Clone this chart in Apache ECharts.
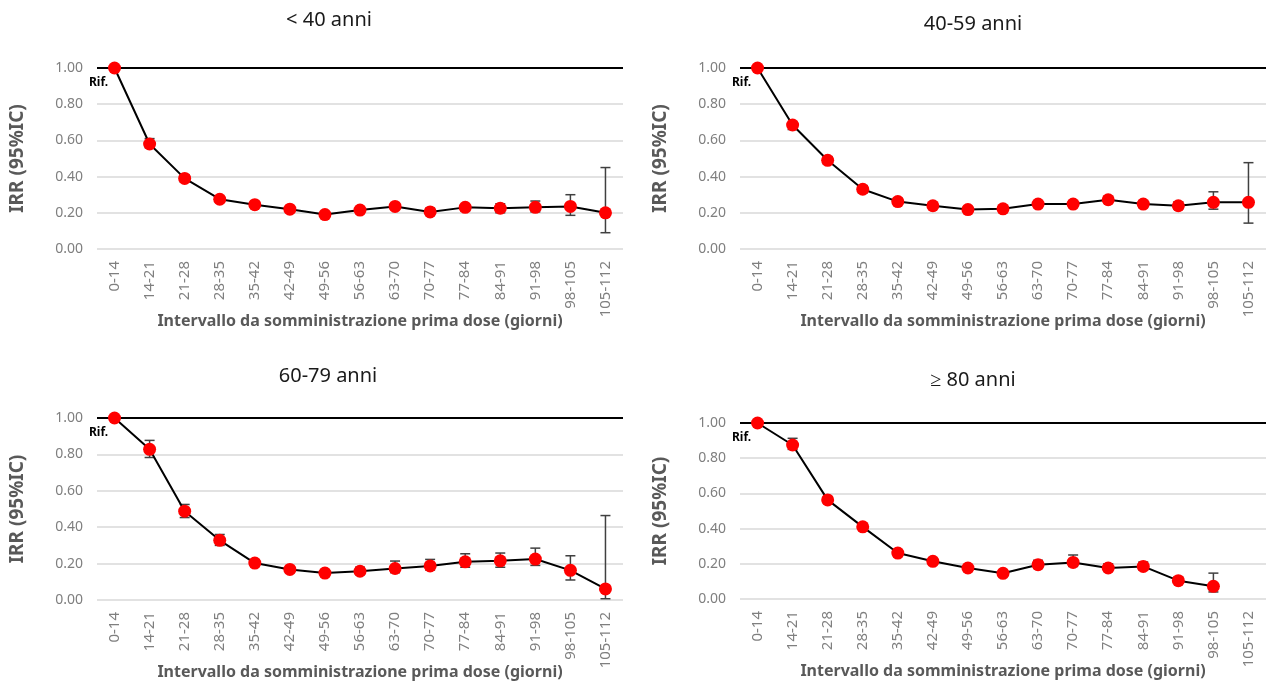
<!DOCTYPE html>
<html>
<head>
<meta charset="utf-8">
<script src="https://cdn.jsdelivr.net/npm/echarts@6/dist/echarts.min.js"></script>
<style>
html,body{margin:0;padding:0;background:#fff;}
#chart{width:1271px;height:684px;}
</style>
</head>
<body>
<div id="chart"></div>
<script>
const categories = ['0-14','14-21','21-28','28-35','35-42','42-49','49-56','56-63','63-70','70-77','77-84','84-91','91-98','98-105','105-112'];
const yTicks = [0, 0.2, 0.4, 0.6, 0.8, 1.0];
const panelTitles = ['< 40 anni', '40-59 anni', '60-79 anni', '≥ 80 anni'];

const irr40 = [1.00, 0.58, 0.39, 0.275, 0.245, 0.22, 0.19, 0.215, 0.235, 0.205, 0.23, 0.225, 0.23, 0.235, 0.20];
const lo40  = [null, 0.56, 0.37, 0.26, 0.23, 0.21, 0.18, 0.20, 0.22, 0.19, 0.21, 0.20, 0.205, 0.186, 0.09];
const hi40  = [null, 0.61, 0.41, 0.29, 0.26, 0.235, 0.20, 0.23, 0.25, 0.225, 0.245, 0.25, 0.265, 0.30, 0.45];

const irr4059 = [1.00, 0.685, 0.49, 0.33, 0.262, 0.239, 0.218, 0.222, 0.248, 0.248, 0.272, 0.248, 0.239, 0.258, 0.258];
const lo4059  = [null, 0.66, 0.47, 0.31, 0.25, 0.225, 0.205, 0.21, 0.235, 0.235, 0.255, 0.23, 0.22, 0.22, 0.143];
const hi4059  = [null, 0.70, 0.51, 0.35, 0.28, 0.255, 0.23, 0.235, 0.265, 0.265, 0.29, 0.265, 0.26, 0.316, 0.477];

const irr6079 = [1.00, 0.828, 0.488, 0.328, 0.203, 0.168, 0.148, 0.158, 0.173, 0.187, 0.21, 0.215, 0.225, 0.163, 0.061];
const lo6079  = [null, 0.783, 0.453, 0.30, 0.19, 0.15, 0.135, 0.14, 0.15, 0.165, 0.18, 0.18, 0.19, 0.11, 0.007];
const hi6079  = [null, 0.877, 0.525, 0.36, 0.22, 0.18, 0.16, 0.18, 0.214, 0.223, 0.254, 0.258, 0.285, 0.243, 0.464];

const irr80 = [1.00, 0.875, 0.563, 0.41, 0.261, 0.214, 0.176, 0.146, 0.195, 0.208, 0.176, 0.185, 0.104, 0.072, null];
const lo80  = [null, 0.85, 0.545, 0.395, 0.245, 0.20, 0.16, 0.13, 0.175, 0.185, 0.16, 0.165, 0.09, 0.04, null];
const hi80  = [null, 0.913, 0.58, 0.425, 0.275, 0.23, 0.19, 0.16, 0.22, 0.25, 0.20, 0.21, 0.125, 0.147, null];

const panels = [
  {v: irr40, lo: lo40, hi: hi40},
  {v: irr4059, lo: lo4059, hi: hi4059},
  {v: irr6079, lo: lo6079, hi: hi6079},
  {v: irr80, lo: lo80, hi: hi80}
];

const FONT = 'Noto Sans';
const grids = [
  {left: 97, top: 68, width: 526, height: 181},
  {left: 740, top: 68, width: 526, height: 181},
  {left: 97, top: 418, width: 526, height: 182},
  {left: 740, top: 423, width: 526, height: 176}
];
const titlePos = [
  {left: 324, top: 5},
  {left: 968, top: 9},
  {left: 323, top: 361},
  {left: 968, top: 365}
];

const option = {
  backgroundColor: '#fff',
  animation: false,
  title: panelTitles.map((t, i) => ({
    text: t,
    left: titlePos[i].left,
    top: titlePos[i].top,
    textAlign: 'center',
    textStyle: {fontFamily: FONT, fontSize: 20, fontWeight: 'normal', color: '#1a1a1a'}
  })),
  grid: grids.map(g => Object.assign({containLabel: false, outerBoundsMode: 'none'}, g)),
  xAxis: grids.map((g, i) => ({
    type: 'category',
    gridIndex: i,
    data: categories,
    boundaryGap: true,
    axisLine: {show: false},
    axisTick: {show: false},
    axisLabel: {rotate: 90, interval: 0, margin: 12, color: '#7f7f7f', fontFamily: FONT, fontSize: 15},
    name: 'Intervallo da somministrazione prima dose (giorni)',
    nameLocation: 'middle',
    nameGap: 64,
    nameMoveOverlap: false,
    nameTextStyle: {fontFamily: FONT, fontSize: 16, fontWeight: 'bold', color: '#595959'}
  })),
  yAxis: grids.map((g, i) => ({
    type: 'value',
    gridIndex: i,
    min: yTicks[0],
    max: yTicks[yTicks.length - 1],
    interval: 0.2,
    axisLine: {show: false},
    axisTick: {show: false},
    splitLine: {lineStyle: {color: '#d9d9d9', width: 1.5}},
    axisLabel: {color: '#7f7f7f', fontFamily: FONT, fontSize: 14, margin: 14, formatter: v => v.toFixed(2)},
    name: 'IRR (95%IC)',
    nameLocation: 'middle',
    nameGap: 70,
    nameMoveOverlap: false,
    nameTextStyle: {fontFamily: FONT, fontSize: 19, fontWeight: 'bold', color: '#595959'}
  })),
  series: []
};

panels.forEach((p, i) => {
  const errData = [];
  p.lo.forEach((l, k) => { if (l != null && p.hi[k] != null) errData.push([k, l, p.hi[k]]); });
  option.series.push({
    type: 'custom',
    xAxisIndex: i, yAxisIndex: i,
    z: 2,
    data: errData,
    encode: {x: 0, y: [1, 2]},
    renderItem: function (params, api) {
      const x = api.value(0);
      const a = api.coord([x, api.value(1)]);
      const b = api.coord([x, api.value(2)]);
      const hw = 5;
      const st = {stroke: '#404040', lineWidth: 1.5};
      return {
        type: 'group',
        children: [
          {type: 'line', shape: {x1: a[0], y1: a[1], x2: b[0], y2: b[1]}, style: st},
          {type: 'line', shape: {x1: a[0] - hw, y1: a[1], x2: a[0] + hw, y2: a[1]}, style: st},
          {type: 'line', shape: {x1: b[0] - hw, y1: b[1], x2: b[0] + hw, y2: b[1]}, style: st}
        ]
      };
    }
  });
  option.series.push({
    type: 'line',
    xAxisIndex: i, yAxisIndex: i,
    z: 3,
    data: p.v.map((v, k) => k === 0 ? {
      value: v,
      label: {show: true, position: 'bottom', offset: [-16, -3], formatter: 'Rif.', fontFamily: FONT, fontSize: 12, fontWeight: 'bold', color: '#000'}
    } : v),
    symbol: 'circle',
    symbolSize: 13,
    itemStyle: {color: '#ff0000'},
    lineStyle: {color: '#000', width: 2},
    connectNulls: false,
    markLine: {
      silent: true,
      symbol: ['none', 'none'],
      label: {show: false},
      lineStyle: {color: '#000', width: 2, type: 'solid'},
      z: 1,
      data: [{yAxis: 1}]
    }
  });
});

const chart = echarts.init(document.getElementById('chart'), null, {renderer: 'canvas'});
chart.setOption(option);
</script>
</body>
</html>
